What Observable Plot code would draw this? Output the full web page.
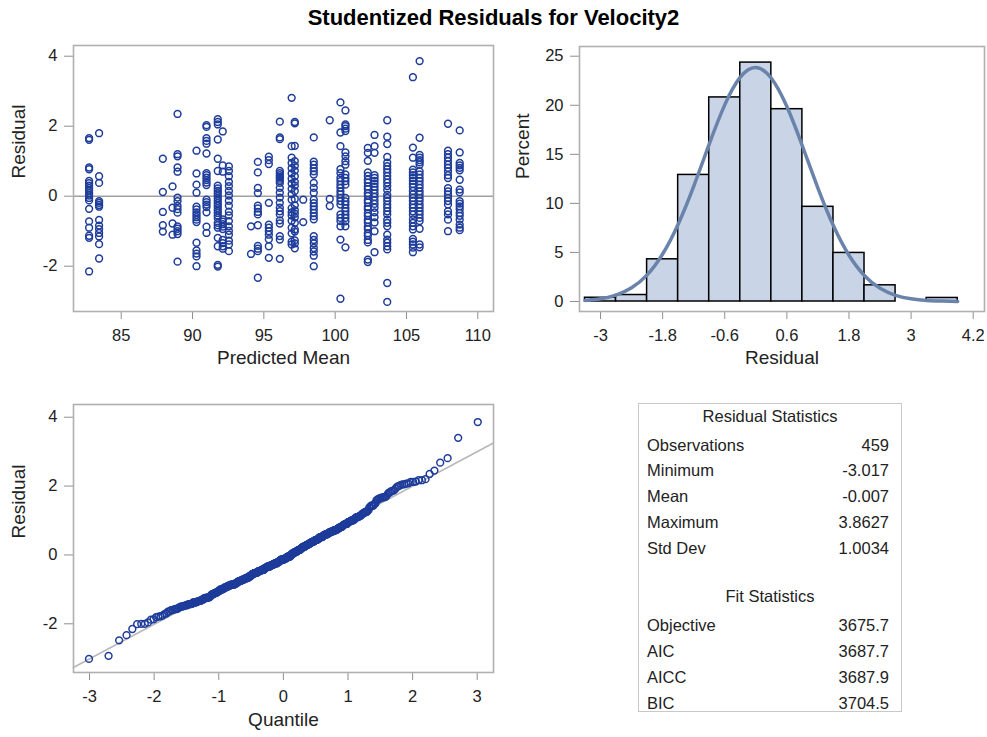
<!DOCTYPE html>
<html>
<head>
<meta charset="utf-8">
<script src="https://cdn.jsdelivr.net/npm/d3@7"></script>
<script src="https://cdn.jsdelivr.net/npm/@observablehq/plot@0.6"></script>
<style>
  html, body { margin: 0; padding: 0; background: #fff; }
  #root { position: relative; width: 987px; height: 737px; overflow: hidden; background: #fff;
          font-family: "Liberation Sans", Arial, sans-serif; color: #222; }
  .panel { position: absolute; }
  #title { position: absolute; left: 0; width: 987px; top: 5px; text-align: center;
           font-weight: bold; font-size: 22px; color: #000; }
  svg g[aria-label="x-axis tick"], svg g[aria-label="y-axis tick"] { stroke: #8f8f8f; }
  #table { position: absolute; left: 638px; top: 403px; width: 264px; height: 309px;
           border: 1px solid #c8c8c8; box-sizing: border-box; }
  .cell { position: absolute; font-size: 16.5px; line-height: 20px; white-space: nowrap; color: #222; }
</style>
</head>
<body>
<div id="root">
  <div id="title"></div>
  <div id="tl" class="panel" style="left:0;top:0"></div>
  <div id="tr" class="panel" style="left:500px;top:0"></div>
  <div id="bl" class="panel" style="left:0;top:385px"></div>
  <div id="table"></div>
</div>
<script>
// ---------------- data ----------------
const chartTitle = "Studentized Residuals for Velocity2";

// predicted-mean columns of the residual-vs-predicted plot
const predictedMeans = [82.75, 83.45, 87.92, 88.6, 88.95, 90.28, 90.98, 91.77, 92.12, 92.55,
  94.1, 94.58, 95.35, 96.12, 96.95, 97.17, 97.76, 98.5, 99.62, 100.37, 100.72,
  102.29, 102.76, 103.65, 105.45, 105.92, 107.91, 108.73];
// residuals read for each column (same order)
const residualsByGroup = [
  [1.66, 1.61, 0.82, 0.77, 0.44, 0.37, 0.3, 0.23, 0.16, 0.09, 0.02, -0.05, -0.12, -0.36, -0.72, -0.9, -1.13, -1.19, -2.15],
  [1.8, 0.57, 0.38, -0.14, -0.19, -0.25, -0.3, -0.68, -0.84, -0.94, -1.05, -1.15, -1.37, -1.78],
  [1.07, 0.12, -0.45, -0.83, -1.01],
  [0.28, -0.33, -0.78, -1.1],
  [2.35, 1.2, 1.14, 0.82, 0.7, -0.04, -0.14, -0.28, -0.37, -0.47, -0.86, -0.93, -1.0, -1.08, -1.87],
  [1.3, 0.65, 0.33, 0.1, -0.3, -0.38, -0.46, -0.53, -0.6, -0.67, -0.74, -1.33, -1.55, -1.64, -1.72, -2.0],
  [2.03, 1.98, 1.66, 1.58, 1.5, 1.22, 0.66, 0.6, 0.53, 0.46, 0.39, 0.32, -0.1, -0.17, -0.24, -0.31, -0.46, -0.87, -1.05],
  [2.2, 2.12, 2.05, 1.62, 1.07, 0.72, 0.3, 0.22, 0.15, 0.08, 0.01, -0.06, -0.13, -0.2, -0.27, -0.34, -0.41, -0.48, -0.55, -0.62, -0.76, -0.83, -0.9, -1.19, -1.43, -1.96, -2.01],
  [1.85, 0.88, 0.7, -0.66, -0.73, -0.8, -0.87, -0.94, -1.25, -1.34, -1.43, -1.5],
  [0.85, 0.72, 0.57, 0.41, 0.29, 0.15, 0.02, -0.13, -0.27, -0.44, -0.55, -0.71, -0.86, -0.99, -1.1, -1.27, -1.38, -1.57],
  [-0.86, -1.65],
  [0.98, 0.68, 0.24, 0.09, -0.27, -0.35, -0.45, -0.52, -0.83, -1.42, -1.5, -1.57, -2.33],
  [1.13, 1.03, 0.92, -0.19, -0.81, -0.9, -1.0, -1.1, -1.23, -1.43, -1.76],
  [2.13, 1.68, 1.63, 0.72, 0.66, 0.6, 0.55, 0.5, 0.44, 0.38, 0.24, 0.1, -0.04, -0.19, -0.33, -0.43, -0.52, -0.69, -0.78, -1.14, -1.24, -1.79],
  [2.81, 1.43, 1.1, 0.95, 0.8, 0.65, 0.5, 0.36, 0.21, 0.06, -0.1, -0.34, -0.46, -0.55, -0.7, -0.9, -1.06, -1.3, -1.38],
  [2.12, 2.08, 1.44, 1.0, 0.87, 0.73, 0.57, 0.41, 0.3, 0.15, -0.08, -0.26, -0.4, -0.5, -0.61, -0.76, -0.95, -1.01, -1.26, -1.35, -1.49],
  [-0.1, -0.74],
  [1.68, 0.99, 0.9, 0.8, 0.71, 0.62, 0.38, 0.24, 0.1, -0.1, -0.2, -0.29, -0.38, -0.48, -0.57, -0.66, -1.14, -1.25, -1.35, -1.48, -1.58, -1.7, -2.0],
  [2.17, -0.08, -0.28],
  [2.68, 1.82, 1.43, 0.77, 0.66, 0.52, 0.43, 0.33, 0.24, 0.14, 0.05, -0.05, -0.14, -0.24, -0.52, -0.62, -0.71, -0.86, -1.24, -2.93],
  [2.45, 2.05, 2.0, 1.93, 1.86, 1.25, 1.14, 1.0, 0.9, 0.62, 0.52, 0.43, 0.33, -0.05, -0.15, -0.24, -0.34, -0.43, -0.53, -0.62, -0.72, -0.86, -1.46],
  [1.38, 1.24, 1.01, 0.68, 0.58, 0.47, 0.39, 0.28, 0.2, 0.09, 0.01, -0.11, -0.18, -0.3, -0.37, -0.49, -0.56, -0.68, -0.75, -0.87, -0.94, -1.06, -1.13, -1.25, -1.32, -1.81, -1.88],
  [1.75, 1.43, 1.24, 0.6, 0.52, 0.44, 0.36, 0.27, 0.18, 0.08, -0.02, -0.12, -0.22, -0.33, -0.46, -0.6, -0.75, -1.0, -1.6],
  [2.17, 1.7, 1.49, 1.12, 0.96, 0.86, 0.77, 0.68, 0.58, 0.48, 0.39, 0.29, 0.18, 0.04, -0.05, -0.14, -0.24, -0.33, -0.43, -0.52, -0.67, -0.76, -0.86, -1.1, -1.24, -1.33, -1.43, -1.52, -2.48, -3.02],
  [3.4, 1.39, 1.1, 0.76, 0.68, 0.6, 0.52, 0.44, 0.35, 0.26, 0.15, 0.05, -0.05, -0.14, -0.24, -0.33, -0.43, -0.53, -0.66, -0.76, -0.86, -0.95, -1.22, -1.3, -1.38, -1.47, -1.6],
  [3.86, 1.67, 1.18, 1.1, 1.03, 0.97, 0.9, 0.71, 0.62, 0.52, 0.43, 0.33, 0.24, 0.14, 0.05, -0.05, -0.14, -0.24, -0.33, -0.43, -0.52, -0.62, -0.71, -0.93, -1.38, -1.46],
  [2.07, 1.3, 1.2, 1.1, 1.0, 0.9, 0.81, 0.71, 0.6, 0.52, 0.23, 0.14, 0.05, -0.05, -0.14, -0.24, -0.43, -0.52, -0.67, -1.0],
  [1.88, 1.25, 0.95, 0.88, 0.81, 0.74, 0.47, 0.19, 0.11, -0.14, -0.21, -0.29, -0.37, -0.48, -0.56, -0.67, -0.81, -0.9, -0.97]
];

// histogram (bin midpoints, bin width 0.6) and percent per bin
const histMid = [-3, -2.4, -1.8, -1.2, -0.6, 0, 0.6, 1.2, 1.8, 2.4, 3.0, 3.6];
const histPct = [0.38, 0.66, 4.3, 12.9, 20.8, 24.35, 19.6, 9.65, 4.95, 1.65, 0, 0.36];
const histBinWidth = 0.6;
// normal density curve (percent scale)
const densityX   = [-3.3, -3.0, -2.7, -2.4, -2.1, -1.8, -1.5, -1.2, -0.9, -0.6, -0.3, 0, 0.3, 0.6, 0.9, 1.2, 1.5, 1.8, 2.1, 2.4, 2.7, 3.0, 3.3, 3.6, 3.9];
const densityPct = [0.11, 0.28, 0.65, 1.39, 2.71, 4.84, 7.88, 11.74, 16.04, 20.04, 22.86, 23.85, 22.76, 19.87, 15.85, 11.56, 7.71, 4.71, 2.63, 1.34, 0.63, 0.27, 0.1, 0.04, 0.01];

// Q-Q reference line endpoints
const qqLineX = [-3.25, 3.25];
const qqLineY = [-3.27, 3.25];

// tick labels
const tlXTicks = [85, 90, 95, 100, 105, 110];
const tlYTicks = [-2, 0, 2, 4];
const histXTicks = [-3, -1.8, -0.6, 0.6, 1.8, 3, 4.2];
const histYTicks = [0, 5, 10, 15, 20, 25];
const qqXTicks = [-3, -2, -1, 0, 1, 2, 3];
const qqYTicks = [-2, 0, 2, 4];

// statistics table
const residStatsTitle = "Residual Statistics";
const residStatLabels = ["Observations", "Minimum", "Mean", "Maximum", "Std Dev"];
const residStatValues = ["459", "-3.017", "-0.007", "3.8627", "1.0034"];
const fitStatsTitle = "Fit Statistics";
const fitStatLabels = ["Objective", "AIC", "AICC", "BIC"];
const fitStatValues = ["3675.7", "3687.7", "3687.9", "3704.5"];

// ---------------- helpers ----------------
function invNorm(p) {
  const a = [-3.969683028665376e+01, 2.209460984245205e+02, -2.759285104469687e+02, 1.383577518672690e+02, -3.066479806614716e+01, 2.506628277459239e+00];
  const b = [-5.447609879822406e+01, 1.615858368580409e+02, -1.556989798598866e+02, 6.680131188771972e+01, -1.328068155288572e+01];
  const c = [-7.784894002430293e-03, -3.223964580411365e-01, -2.400758277161838e+00, -2.549732539343734e+00, 4.374664141464968e+00, 2.938163982698783e+00];
  const d = [7.784695709041462e-03, 3.224671290700398e-01, 2.445134137142996e+00, 3.754408661907416e+00];
  const pl = 0.02425, ph = 1 - pl;
  let q, r;
  if (p < pl) { q = Math.sqrt(-2 * Math.log(p)); return (((((c[0]*q+c[1])*q+c[2])*q+c[3])*q+c[4])*q+c[5]) / ((((d[0]*q+d[1])*q+d[2])*q+d[3])*q+1); }
  if (p <= ph) { q = p - 0.5; r = q*q; return (((((a[0]*r+a[1])*r+a[2])*r+a[3])*r+a[4])*r+a[5])*q / (((((b[0]*r+b[1])*r+b[2])*r+b[3])*r+b[4])*r+1); }
  q = Math.sqrt(-2 * Math.log(1 - p)); return -(((((c[0]*q+c[1])*q+c[2])*q+c[3])*q+c[4])*q+c[5]) / ((((d[0]*q+d[1])*q+d[2])*q+d[3])*q+1);
}

const FONT = '"Liberation Sans", Arial, sans-serif';
const dotColor = "#1e3c9a";
const frameColor = "#b0b0b0";
const fmt = d => String(d);
const baseStyle = { fontFamily: FONT, fontSize: "16.5px", color: "#222", background: "transparent", overflow: "visible" };
const labelSize = 19;

document.getElementById("title").textContent = chartTitle;

// ---------------- top-left: residual vs predicted ----------------
const scatter = predictedMeans.flatMap((m, i) => residualsByGroup[i].map(r => ({ pred: m, resid: r })));

document.getElementById("tl").append(Plot.plot({
  width: 500, height: 385,
  marginLeft: 73, marginRight: 7, marginTop: 45, marginBottom: 74,
  style: baseStyle,
  x: { domain: [81.656, 111.1], ticks: tlXTicks, tickFormat: fmt, tickSize: 8, tickPadding: 10, label: null },
  y: { domain: [-3.294, 4.306], ticks: tlYTicks, tickFormat: fmt, tickSize: 9, tickPadding: 7, label: null },
  marks: [
    Plot.ruleY([0], { stroke: "#a0a0a0", strokeWidth: 1.5 }),
    Plot.dot(scatter, { x: "pred", y: "resid", r: 3.4, stroke: dotColor, strokeWidth: 1.5 }),
    Plot.frame({ stroke: frameColor, strokeWidth: 1.6 }),
    Plot.text(["Predicted Mean"], { frameAnchor: "bottom", dy: 52, fontSize: labelSize, fill: "#222" }),
    Plot.text(["Residual"], { frameAnchor: "left", dx: -55, rotate: -90, fontSize: labelSize, fill: "#222" })
  ]
}));

// ---------------- top-right: histogram ----------------
const hist = histMid.map((m, i) => ({ x1: m - histBinWidth / 2, x2: m + histBinWidth / 2, pct: histPct[i] }));
const density = densityX.map((x, i) => ({ x, y: densityPct[i] }));

document.getElementById("tr").append(Plot.plot({
  width: 487, height: 385,
  marginLeft: 79, marginRight: 3, marginTop: 46, marginBottom: 74,
  style: baseStyle,
  x: { domain: [-3.406, 4.418], ticks: histXTicks, tickFormat: fmt, tickSize: 8, tickPadding: 10, label: null },
  y: { domain: [-1.02, 25.99], ticks: histYTicks, tickFormat: fmt, tickSize: 9, tickPadding: 7, label: null },
  marks: [
    Plot.rectY(hist.filter(d => d.pct > 0), { x1: "x1", x2: "x2", y1: 0, y2: "pct", fill: "#c9d5e6", stroke: "#000", strokeWidth: 1.5 }),
    Plot.line(density, { x: "x", y: "y", stroke: "#6a83aa", strokeWidth: 3.5, curve: "natural" }),
    Plot.frame({ stroke: frameColor, strokeWidth: 1.6 }),
    Plot.text(["Residual"], { frameAnchor: "bottom", dy: 52, fontSize: labelSize, fill: "#222" }),
    Plot.text(["Percent"], { frameAnchor: "left", dx: -57, rotate: -90, fontSize: labelSize, fill: "#222" })
  ]
}));

// ---------------- bottom-left: Q-Q plot ----------------
const sorted = scatter.map(d => d.resid).sort((a, b) => a - b);
const n = sorted.length;
const qq = sorted.map((r, i) => ({ q: invNorm((i + 1 - 0.375) / (n + 0.25)), r }));
const qqLine = qqLineX.map((x, i) => ({ x, y: qqLineY[i] }));

document.getElementById("bl").append(Plot.plot({
  width: 500, height: 352,
  marginLeft: 73, marginRight: 7, marginTop: 19, marginBottom: 65,
  style: baseStyle,
  x: { domain: [-3.248, 3.252], ticks: qqXTicks, tickFormat: fmt, tickSize: 8, tickPadding: 10, label: null },
  y: { domain: [-3.414, 4.369], ticks: qqYTicks, tickFormat: fmt, tickSize: 9, tickPadding: 7, label: null },
  marks: [
    Plot.line(qqLine, { x: "x", y: "y", stroke: "#b8b8b8", strokeWidth: 1.6 }),
    Plot.dot(qq, { x: "q", y: "r", r: 3.4, stroke: dotColor, strokeWidth: 1.5 }),
    Plot.frame({ stroke: frameColor, strokeWidth: 1.6 }),
    Plot.text(["Quantile"], { frameAnchor: "bottom", dy: 53, fontSize: labelSize, fill: "#222" }),
    Plot.text(["Residual"], { frameAnchor: "left", dx: -55, rotate: -90, fontSize: labelSize, fill: "#222" })
  ]
}));

// ---------------- statistics table ----------------
const table = document.getElementById("table");
function cell(text, top, opts) {
  const el = document.createElement("div");
  el.className = "cell";
  el.textContent = text;
  el.style.top = (top - 10) + "px";
  if (opts.center) { el.style.left = "0"; el.style.width = "100%"; el.style.textAlign = "center"; }
  else if (opts.right) { el.style.right = opts.right + "px"; el.style.textAlign = "right"; }
  else { el.style.left = opts.left + "px"; }
  table.append(el);
}
// positions relative to the box (box top = 403)
cell(residStatsTitle, 12, { center: true });
residStatLabels.forEach((t, i) => {
  const y = 40.5 + i * 25.8;
  cell(t, y, { left: 8 });
  cell(residStatValues[i], y, { right: 12 });
});
cell(fitStatsTitle, 191.5, { center: true });
fitStatLabels.forEach((t, i) => {
  const y = 220.5 + i * 26;
  cell(t, y, { left: 8 });
  cell(fitStatValues[i], y, { right: 12 });
});
</script>
</body>
</html>
